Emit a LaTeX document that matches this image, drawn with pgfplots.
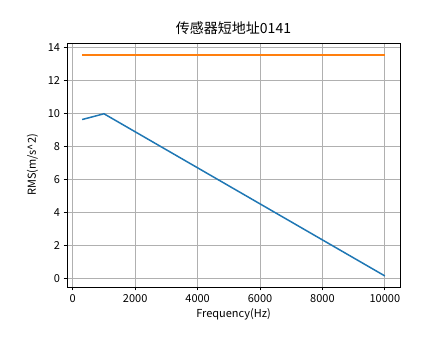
\documentclass[border=0pt]{standalone}
\usepackage{pgfplots}
\pgfplotsset{compat=1.18}
\usepackage{fontspec}
\setmainfont{Noto Sans CJK SC}
\definecolor{mblue}{HTML}{1F77B4}
\definecolor{morange}{HTML}{FF7F0E}
\definecolor{mgrid}{HTML}{B0B0B0}
\begin{document}
\begin{tikzpicture}
\path[use as bounding box] (0,0) rectangle (444bp,359bp);
\begin{axis}[
  at={(67bp,72bp)}, anchor=south west,
  scale only axis, width=333bp, height=244bp,
  xmin=-185, xmax=10485, ymin=-0.52, ymax=14.27,
  xtick={0,2000,...,10000}, ytick={0,2,...,14},
  scaled x ticks=false,
  xticklabel style={/pgf/number format/1000 sep={}},
  /pgf/number format/assume math mode=true,
  grid=major, grid style={mgrid, line width=0.8bp},
  axis line style={black, line width=0.8bp},
  tick align=outside, tick pos=left,
  major tick length=3.5bp,
  tick style={black, line width=0.8bp},
  tick label style={font=\fontsize{11bp}{13bp}\selectfont},
  label style={font=\fontsize{11bp}{13bp}\selectfont},
  ylabel style={yshift=3bp},
  title style={font=\fontsize{14bp}{16bp}\selectfont, yshift=-1bp},
  title={传感器短地址0141},
  xlabel={Frequency(Hz)},
  ylabel={RMS(m/s\textasciicircum 2)},
]
\addplot[mblue, line width=1.5bp] coordinates {(300,9.63) (1000,9.98) (10000,0.15)};
\addplot[morange, line width=1.5bp] coordinates {(300,13.55) (10000,13.55)};
\end{axis}
\end{tikzpicture}
\end{document}
